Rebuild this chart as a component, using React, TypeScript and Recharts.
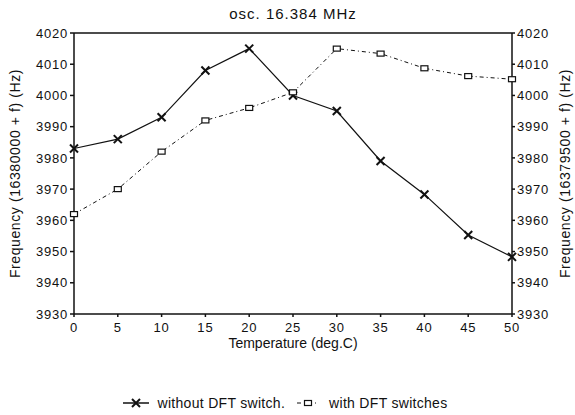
import React from 'react';
import { LineChart, Line, XAxis, YAxis, Legend, ReferenceLine } from 'recharts';

const temps = [0, 5, 10, 15, 20, 25, 30, 35, 40, 45, 50];
const withoutSwitch = [3983, 3986, 3993, 4008, 4015, 4000, 3995, 3979, 3968.3, 3955.3, 3948.3];
const withSwitches = [3962, 3970, 3982, 3992, 3996, 4001, 4015, 4013.4, 4008.7, 4006.2, 4005.2];
const xTicks = [0, 5, 10, 15, 20, 25, 30, 35, 40, 45, 50];
const yTicks = [3930, 3940, 3950, 3960, 3970, 3980, 3990, 4000, 4010, 4020];

const chartData = temps.map((t, i) => ({
  temp: t,
  without: withoutSwitch[i],
  with: withSwitches[i],
}));

const FONT = '"Liberation Sans", Arial, sans-serif';
const INK = '#111';

const CrossDot = (props: any) => {
  const { cx, cy } = props;
  if (cx == null || cy == null) return null;
  const r = 4;
  return (
    <g stroke={INK} strokeWidth={2}>
      <line x1={cx - r} y1={cy - r} x2={cx + r} y2={cy + r} />
      <line x1={cx - r} y1={cy + r} x2={cx + r} y2={cy - r} />
    </g>
  );
};

const SquareDot = (props: any) => {
  const { cx, cy } = props;
  if (cx == null || cy == null) return null;
  return <rect x={cx - 3.5} y={cy - 2.5} width={7} height={5} fill="#fff" stroke={INK} strokeWidth={1.2} />;
};

const LegendBox = () => (
  <div
    style={{
      display: 'flex',
      justifyContent: 'center',
      alignItems: 'center',
      fontFamily: FONT,
      fontSize: 14,
      letterSpacing: 0.3,
      color: INK,
      paddingRight: 4,
    }}
  >
    <svg width={26} height={10} style={{ marginRight: 8 }}>
      <line x1={0} y1={5} x2={26} y2={5} stroke={INK} strokeWidth={1.5} />
      <CrossDot cx={13} cy={5} />
    </svg>
    <span>without DFT switch.</span>
    <svg width={22} height={10} style={{ marginLeft: 12, marginRight: 10 }}>
      <line x1={0} y1={5} x2={22} y2={5} stroke={INK} strokeWidth={1} strokeDasharray="4 3 1 3" />
      <SquareDot cx={11} cy={5} />
    </svg>
    <span>with DFT switches</span>
  </div>
);

const SideLabel = (text: string, dx: number) => (props: any) => {
  const { viewBox } = props;
  const x = viewBox.x + dx;
  const y = viewBox.y + viewBox.height / 2;
  return (
    <text
      x={x}
      y={y}
      transform={`rotate(-90 ${x} ${y})`}
      textAnchor="middle"
      dominantBaseline="central"
      fontFamily={FONT}
      fontSize={14}
      letterSpacing={0.6}
      fill={INK}
    >
      {text}
    </text>
  );
};

const tickStyle = { fontFamily: FONT, fontSize: 13, letterSpacing: 0.8, fill: INK };

export default function App() {
  return (
    <div style={{ position: 'absolute', left: 0, top: 0, width: 575, height: 415, background: '#fff' }}>
      <div
        style={{
          position: 'absolute',
          left: 0,
          top: 5,
          width: 586,
          textAlign: 'center',
          fontFamily: FONT,
          fontSize: 15,
          letterSpacing: 1,
          color: INK,
        }}
      >
        osc. 16.384 MHz
      </div>
      <LineChart width={575} height={415} data={chartData} margin={{ top: 33, right: 0, bottom: 51, left: 0 }}>
        <XAxis
          dataKey="temp"
          type="number"
          domain={[0, 50]}
          ticks={xTicks}
          interval={0}
          height={50}
          tickSize={3}
          tickMargin={6}
          tick={tickStyle}
          stroke={INK}
          strokeWidth={1.5}
          label={{
            value: 'Temperature (deg.C)',
            position: 'insideTop',
            offset: 24,
            style: { fontFamily: FONT, fontSize: 14, fill: INK },
          }}
        />
        <YAxis
          yAxisId="left"
          domain={[3930, 4020]}
          ticks={yTicks}
          interval={0}
          width={74}
          tickSize={4}
          tickMargin={2}
          tick={tickStyle}
          stroke={INK}
          strokeWidth={1.5}
          label={{ content: SideLabel('Frequency (16380000 + f) (Hz)', 15) }}
        />
        <YAxis
          yAxisId="right"
          orientation="right"
          domain={[3930, 4020]}
          ticks={yTicks}
          interval={0}
          width={63}
          tickSize={3}
          tickMargin={2}
          tick={tickStyle}
          stroke={INK}
          strokeWidth={1.5}
          label={{ content: SideLabel('Frequency (16379500 + f) (Hz)', 53) }}
        />
        <ReferenceLine yAxisId="left" y={4020} stroke={INK} strokeWidth={1.5} />
        <Line
          yAxisId="left"
          dataKey="without"
          name="without DFT switch."
          stroke={INK}
          strokeWidth={1.2}
          dot={<CrossDot />}
          isAnimationActive={false}
        />
        <Line
          yAxisId="right"
          dataKey="with"
          name="with DFT switches"
          stroke={INK}
          strokeWidth={1}
          strokeDasharray="4 3 1 3"
          dot={<SquareDot />}
          isAnimationActive={false}
        />
        <Legend
          layout="horizontal"
          verticalAlign="middle"
          align="center"
          content={<LegendBox />}
          wrapperStyle={{ top: 395, left: 0, width: 575 }}
        />
      </LineChart>
    </div>
  );
}
